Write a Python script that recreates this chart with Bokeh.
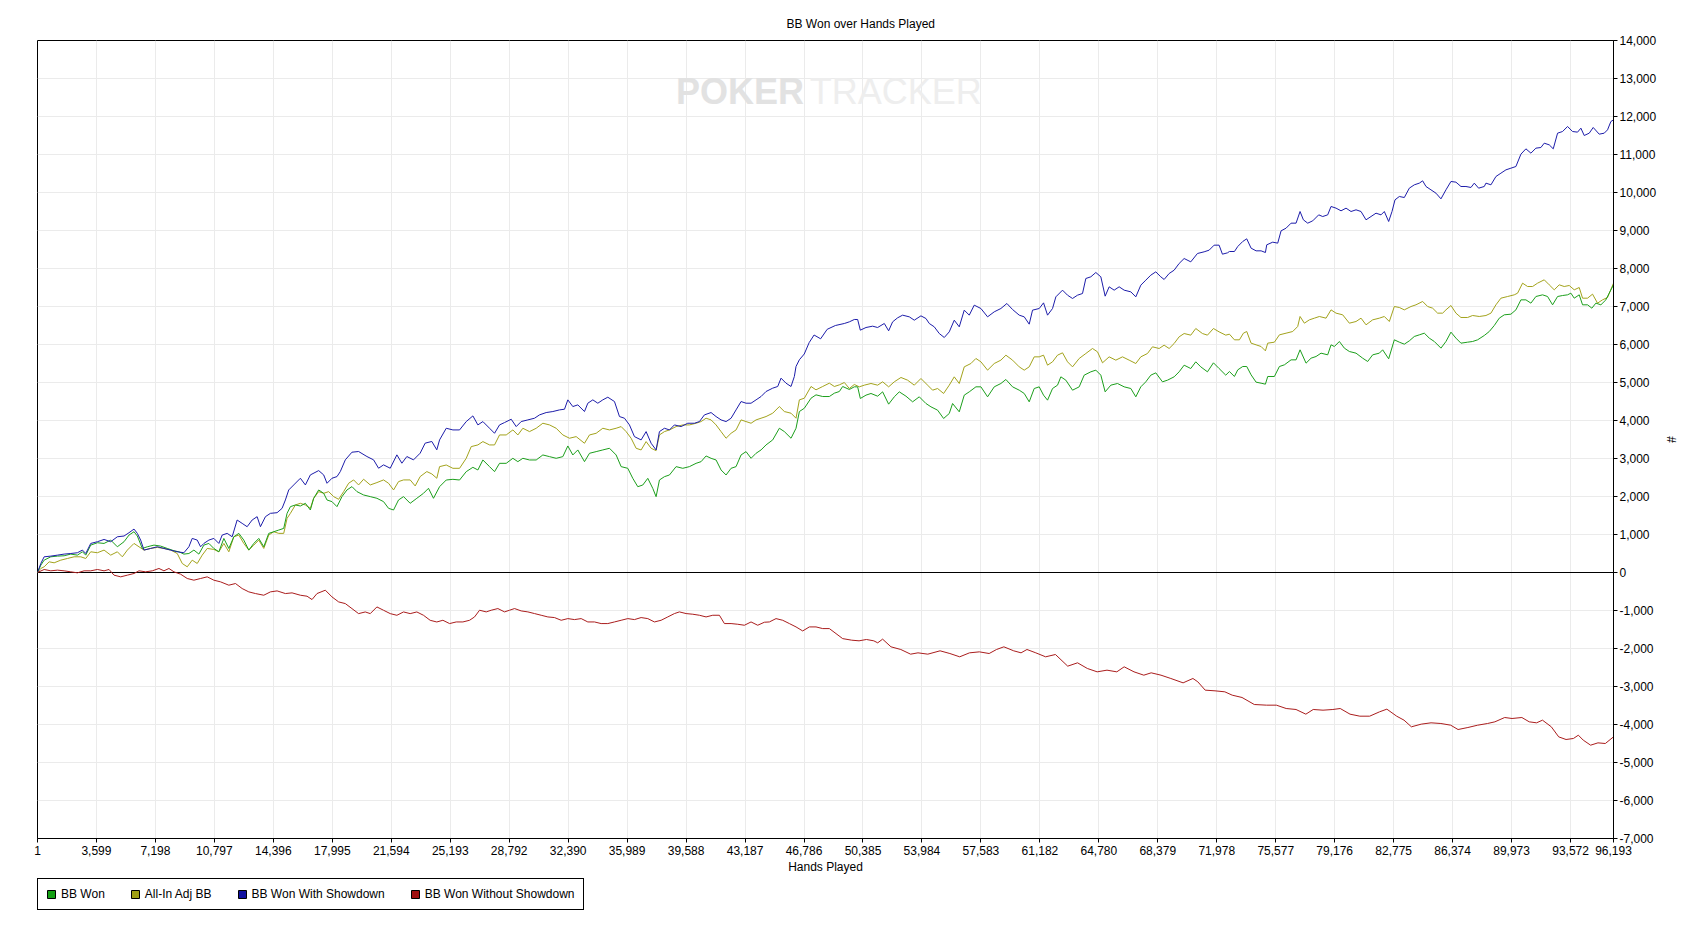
from bokeh.plotting import figure
from bokeh.layouts import column
from bokeh.models import Range1d, FixedTicker, NumeralTickFormatter, Span, Legend, LegendItem
from bokeh.embed import file_html
from bokeh.resources import INLINE
from bokeh.core.properties import value

TITLE = "BB Won over Hands Played"
X_LABEL = "Hands Played"
Y_LABEL = "#"
X_TICKS = [1, 3599, 7198, 10797, 14396, 17995, 21594, 25193, 28792, 32390, 35989,
           39588, 43187, 46786, 50385, 53984, 57583, 61182, 64780, 68379, 71978,
           75577, 79176, 82775, 86374, 89973, 93572, 96193]
Y_TICKS = list(range(-7000, 14001, 1000))
NAMES = ["BB Won", "All-In Adj BB", "BB Won With Showdown", "BB Won Without Showdown"]
COLORS = ["#1c9f1c", "#a3a31c", "#1d1daa", "#aa1d1d"]
LEGEND_COLORS = ["#14a014", "#a0a014", "#1010a0", "#a01010"]

# (hand, bb) pairs
bb_won = [
    (1, 0), (204, 193), (407, 325), (813, 413), (1220, 431), (1626, 440), (2032, 484), (2438, 457),
    (2743, 545), (2946, 457), (3251, 721), (3657, 783), (4063, 765), (4469, 853), (4875, 677),
    (5282, 810), (5586, 985), (5891, 1073), (6094, 960), (6399, 633), (6703, 677), (7110, 721),
    (7516, 695), (7922, 633), (8328, 572), (8633, 545), (8937, 484), (9242, 500), (9547, 590),
    (9851, 484), (10156, 721), (10461, 765), (10765, 633), (11070, 545), (11375, 897), (11679, 633),
    (11984, 940), (12289, 1030), (12593, 853), (12898, 590), (13203, 765), (13507, 897), (13812, 677),
    (14116, 1030), (14421, 1073), (14726, 1117), (15030, 1161), (15234, 1557), (15437, 1733),
    (15741, 1777), (16046, 1750), (16351, 1821), (16655, 1645), (16858, 1953), (17163, 2172),
    (17468, 2084), (17671, 1909), (17975, 1865), (18280, 1733), (18585, 1997), (18889, 2172),
    (19194, 2260), (19499, 2128), (19905, 2040), (20311, 1997), (20717, 1953), (21123, 1865),
    (21428, 1689), (21733, 1645), (22037, 1909), (22342, 1997), (22748, 1821), (23154, 1953),
    (23561, 2084), (23865, 2216), (24170, 1953),
    (24542, 2258), (24949, 2434), (25355, 2452), (25762, 2434), (26169, 2654), (26575, 2768),
    (26880, 2698), (27185, 2961), (27592, 2786), (27897, 2654), (28202, 2873), (28609, 2873),
    (29015, 3005), (29320, 2917), (29625, 3005), (30032, 2961), (30439, 2961), (30845, 3093),
    (31252, 3049), (31659, 3005), (32065, 3049), (32370, 3330), (32675, 3093), (32980, 3225),
    (33387, 2917), (33692, 3137), (34099, 3181), (34505, 3225), (34912, 3269), (35318, 3093),
    (35623, 2786), (36030, 2742), (36335, 2478), (36640, 2258), (36945, 2302), (37250, 2478),
    (37555, 2214), (37758, 1995), (37962, 2434), (38267, 2522), (38572, 2566), (38978, 2786),
    (39385, 2742), (39791, 2786), (40198, 2873), (40503, 2917), (40808, 3067), (41113, 3005),
    (41418, 2961), (41723, 2698), (42028, 2566), (42333, 2742), (42638, 2786), (42943, 3093),
    (43248, 3181), (43553, 3005), (43858, 3137), (44163, 3225), (44468, 3357), (44875, 3489),
    (45281, 3796), (45586, 3708), (45993, 3533), (46298, 3796), (46502, 4236), (46806, 4323),
    (47213, 4587), (47518, 4675), (47925, 4631), (48332, 4631), (48637, 4719), (48942, 4763),
    (49145, 4895),
    (49551, 4816), (49856, 4886), (50059, 4886), (50222, 4579), (50568, 4667), (50873, 4711),
    (51279, 4640), (51584, 4754), (51950, 4430), (52296, 4623), (52601, 4754), (53008, 4640),
    (53414, 4491), (53821, 4623), (54228, 4447), (54533, 4360), (54939, 4272), (55305, 4053),
    (55651, 4184), (55854, 4447), (56261, 4228), (56566, 4667), (56871, 4754), (57278, 4886),
    (57583, 4886), (57989, 4623), (58396, 4886), (58803, 4974), (59108, 5079), (59514, 4886),
    (59921, 4798), (60226, 4711), (60531, 4491), (60836, 4842), (61141, 4886), (61405, 4667),
    (61649, 4535), (61954, 4842), (62259, 4930), (62462, 5149), (62767, 5061), (63174, 4798),
    (63581, 4886), (63886, 5193), (64292, 5281), (64597, 5325), (64902, 5193), (65166, 4754),
    (65512, 4930), (65919, 4974), (66326, 4886), (66732, 4842), (67037, 4623), (67342, 4886),
    (67647, 5018), (67952, 5193), (68257, 5254), (68664, 5018), (68969, 5061), (69376, 5149),
    (69681, 5281), (69986, 5456), (70392, 5368), (70697, 5544), (71002, 5412), (71409, 5281),
    (71775, 5518), (72121, 5368), (72527, 5193),
    (72751, 5289), (73056, 5158), (73259, 5333), (73564, 5421), (73808, 5421), (74073, 5202),
    (74378, 5009), (74683, 4982), (74947, 4956), (75089, 5158), (75496, 5158), (75801, 5421),
    (76106, 5465), (76513, 5596), (76818, 5596), (77062, 5860), (77428, 5509), (77733, 5640),
    (78038, 5684), (78343, 5772), (78749, 5728), (78953, 5991), (79156, 5947), (79461, 6079),
    (79766, 5904), (80071, 5816), (80478, 5772), (80884, 5640), (81189, 5553), (81494, 5728),
    (81901, 5772), (82104, 5860), (82470, 5623), (82816, 6123), (83121, 6061), (83426, 6009),
    (83731, 6096), (84036, 6211), (84341, 6254), (84646, 6298), (84951, 6167), (85256, 6079),
    (85662, 5904), (85967, 6079), (86272, 6325), (86577, 6167), (86882, 6035), (87289, 6061),
    (87594, 6079), (87899, 6123), (88306, 6237), (88611, 6342), (88916, 6500), (89221, 6693),
    (89526, 6781), (89932, 6798), (90237, 6912), (90542, 7175), (90847, 7175), (91152, 7088),
    (91457, 7263), (91864, 7307), (92169, 7263), (92474, 7044), (92779, 7263), (93084, 7289),
    (93389, 7307), (93592, 7351), (93796, 7219), (94101, 7307), (94304, 7044), (94609, 7044),
    (94873, 6956), (95117, 7088), (95423, 7044), (95728, 7175), (95931, 7351), (96193, 7570),
]

all_in_adj = [
    (1, 0), (204, 106), (407, 150), (712, 281), (1017, 255), (1423, 325), (1829, 369), (2235, 413),
    (2641, 413), (2946, 369), (3251, 545), (3657, 520), (4063, 590), (4469, 457), (4875, 545),
    (5180, 413), (5485, 590), (5891, 765), (6196, 677), (6500, 590), (6906, 633), (7313, 660),
    (7719, 633), (8125, 590), (8531, 500), (8836, 237), (9141, 150), (9445, 325), (9750, 237),
    (10054, 457), (10359, 633), (10765, 607), (11070, 545), (11375, 765), (11679, 545), (11984, 940),
    (12289, 985), (12593, 765), (12898, 590), (13203, 721), (13507, 853), (13812, 633), (14116, 985),
    (14421, 1073), (14726, 1030), (15030, 1030), (15234, 1425), (15437, 1557), (15741, 1777),
    (16046, 1821), (16351, 1777), (16655, 1689), (16858, 1953), (17163, 2128), (17468, 2084),
    (17772, 2128), (18077, 1997), (18382, 1926), (18686, 2128), (18991, 2348), (19296, 2436),
    (19600, 2304), (19905, 2454), (20311, 2304), (20717, 2366), (21123, 2436), (21428, 2348),
    (21733, 2172), (22037, 2392), (22342, 2436), (22748, 2436), (23053, 2278), (23357, 2524),
    (23764, 2656), (24068, 2594), (24373, 2480),
    (24542, 2786), (24949, 2829), (25355, 2742), (25762, 2742), (26169, 3005), (26474, 3313),
    (26880, 3357), (27185, 3445), (27592, 3357), (27897, 3357), (28202, 3620), (28609, 3620),
    (29015, 3752), (29320, 3620), (29625, 3796), (30032, 3708), (30439, 3796), (30845, 3928),
    (31252, 3884), (31659, 3796), (32065, 3620), (32472, 3533), (32879, 3576), (33387, 3401),
    (33692, 3620), (34099, 3664), (34505, 3796), (34912, 3752), (35318, 3796), (35623, 3840),
    (35928, 3708), (36233, 3533), (36538, 3269), (36843, 3225), (37148, 3445), (37453, 3269),
    (37758, 3207), (37962, 3620), (38267, 3708), (38572, 3752), (38978, 3840), (39385, 3884),
    (39791, 3884), (40198, 3928), (40503, 3972), (40808, 4060), (41113, 4016), (41418, 3884),
    (41723, 3708), (42028, 3533), (42333, 3664), (42638, 3752), (42943, 4016), (43248, 3972),
    (43553, 3928), (43858, 4016), (44163, 4060), (44468, 4104), (44875, 4192), (45281, 4367),
    (45586, 4236), (45993, 4192), (46298, 4060), (46502, 4543), (46806, 4587), (47213, 4895),
    (47518, 4807), (47925, 4895), (48332, 4982), (48637, 4895), (48942, 4938), (49247, 5000),
    (49551, 4842), (49856, 4947), (50161, 4886), (50466, 4930), (50873, 4974), (51279, 4930),
    (51584, 5018), (51950, 4886), (52296, 5018), (52703, 5132), (53109, 5061), (53516, 4930),
    (53923, 5105), (54329, 4930), (54634, 4798), (54939, 4842), (55305, 4711), (55651, 4930),
    (55956, 5149), (56261, 4974), (56566, 5412), (56973, 5500), (57278, 5632), (57583, 5544),
    (57989, 5325), (58396, 5500), (58803, 5588), (59108, 5719), (59514, 5588), (59921, 5412),
    (60226, 5325), (60531, 5412), (60836, 5675), (61141, 5675), (61405, 5719), (61649, 5456),
    (61954, 5544), (62259, 5719), (62564, 5781), (62869, 5544), (63174, 5412), (63581, 5632),
    (63987, 5763), (64394, 5895), (64699, 5807), (65004, 5518), (65410, 5675), (65817, 5588),
    (66224, 5675), (66631, 5588), (67037, 5500), (67342, 5675), (67749, 5763), (68054, 5939),
    (68461, 5895), (68766, 5982), (69071, 5895), (69376, 6026), (69681, 6202), (69986, 6289),
    (70392, 6246), (70697, 6421), (71104, 6289), (71409, 6246), (71775, 6421), (72121, 6333),
    (72527, 6246),
    (72751, 6272), (73056, 6123), (73361, 6123), (73605, 6298), (73808, 6342), (74073, 6035),
    (74378, 5991), (74683, 5947), (74947, 5833), (75089, 6035), (75496, 6061), (75801, 6254),
    (76208, 6298), (76614, 6342), (76919, 6474), (77062, 6737), (77326, 6561), (77631, 6649),
    (77936, 6693), (78241, 6737), (78648, 6693), (78953, 6912), (79258, 6825), (79664, 6781),
    (80071, 6561), (80478, 6605), (80783, 6693), (81088, 6518), (81494, 6649), (81901, 6693),
    (82206, 6737), (82511, 6605), (82816, 7000), (83121, 6974), (83426, 6912), (83832, 7000),
    (84137, 7044), (84544, 7132), (84849, 7000), (85154, 6956), (85459, 6825), (85764, 6825),
    (85967, 6912), (86272, 7026), (86577, 6825), (86882, 6711), (87289, 6711), (87594, 6763),
    (88001, 6737), (88408, 6763), (88713, 6825), (89017, 7044), (89322, 7219), (89729, 7263),
    (90136, 7307), (90339, 7351), (90644, 7614), (90949, 7526), (91254, 7526), (91559, 7614),
    (91966, 7702), (92271, 7570), (92576, 7439), (92881, 7570), (93186, 7526), (93491, 7553),
    (93796, 7439), (94101, 7500), (94304, 7219), (94609, 7219), (94914, 7325), (95219, 7088),
    (95524, 7175), (95829, 7237), (96193, 7614),
]

with_showdown = [
    (1, 0), (204, 237), (407, 413), (813, 431), (1220, 457), (1626, 484), (2032, 500), (2438, 520),
    (2743, 590), (2946, 500), (3251, 765), (3657, 810), (4063, 870), (4469, 810), (4875, 940),
    (5282, 960), (5586, 1047), (5891, 1143), (6094, 1030), (6297, 853), (6500, 590), (6906, 633),
    (7313, 677), (7719, 633), (8125, 590), (8531, 545), (8937, 520), (9242, 677), (9445, 897),
    (9750, 853), (9953, 677), (10156, 765), (10461, 853), (10765, 897), (11070, 765), (11273, 985),
    (11578, 1030), (11882, 940), (12187, 1381), (12492, 1293), (12796, 1205), (13101, 1381),
    (13406, 1469), (13609, 1205), (13913, 1469), (14218, 1557), (14624, 1574), (14929, 1689),
    (15132, 1909), (15335, 2172), (15640, 2304), (16046, 2480), (16351, 2304), (16655, 2568),
    (17163, 2682), (17468, 2568), (17671, 2348), (17975, 2480), (18280, 2524), (18483, 2656),
    (18788, 2964), (19194, 3166), (19600, 3184), (20108, 3052), (20514, 2964), (20819, 2744),
    (21123, 2832), (21530, 2744), (21936, 3096), (22240, 2876), (22545, 3052), (22951, 2964),
    (23357, 3140), (23662, 3404), (24068, 3448), (24373, 3228),
    (24542, 3489), (24949, 3796), (25355, 3752), (25762, 3752), (26169, 3972), (26575, 4121),
    (26880, 3884), (27185, 3972), (27592, 3796), (27897, 3664), (28202, 3884), (28507, 3946),
    (28914, 4033), (29219, 3840), (29523, 3972), (29930, 4016), (30337, 4060), (30642, 4148),
    (31049, 4209), (31455, 4236), (31862, 4279), (32167, 4297), (32370, 4543), (32675, 4367),
    (32980, 4411), (33387, 4236), (33590, 4455), (33895, 4543), (34200, 4455), (34505, 4543),
    (34810, 4613), (35217, 4499), (35522, 4104), (35827, 4060), (36132, 3884), (36437, 3576),
    (36843, 3489), (37148, 3708), (37453, 3401), (37758, 3225), (37962, 3708), (38267, 3796),
    (38572, 3752), (38877, 3884), (39283, 3840), (39690, 3928), (40097, 3928), (40402, 3972),
    (40707, 4148), (41113, 4209), (41418, 4104), (41723, 4016), (42028, 3972), (42333, 4060),
    (42638, 4279), (42943, 4499), (43248, 4455), (43553, 4455), (43858, 4543), (44163, 4631),
    (44468, 4763), (44875, 4851), (45180, 4895), (45383, 5114), (45688, 4982), (45993, 4895),
    (46196, 5158), (46298, 5422), (46502, 5598), (46800, 5750), (47100, 6050), (47400, 6250),
    (47800, 6150), (48200, 6400), (48700, 6500),
    (49246, 6553), (49551, 6596), (49856, 6658), (50059, 6658), (50222, 6377), (50568, 6447),
    (50974, 6482), (51279, 6447), (51686, 6553), (51950, 6360), (52194, 6596), (52499, 6702),
    (52804, 6772), (53211, 6728), (53516, 6640), (53923, 6754), (54228, 6684), (54431, 6553),
    (54736, 6465), (55041, 6289), (55346, 6184), (55651, 6333), (55956, 6640), (56261, 6465),
    (56566, 6904), (56871, 6772), (57176, 7035), (57583, 6947), (57989, 6728), (58396, 6860),
    (58803, 6947), (59168, 7079), (59514, 6921), (59921, 6772), (60226, 6728), (60531, 6535),
    (60734, 6904), (61141, 6947), (61405, 7096), (61649, 6772), (61954, 6947), (62157, 7254),
    (62564, 7430), (62869, 7298), (63174, 7211), (63479, 7298), (63784, 7342), (63987, 7737),
    (64292, 7781), (64597, 7895), (64902, 7781), (65166, 7272), (65410, 7518), (65716, 7430),
    (66021, 7518), (66326, 7430), (66732, 7386), (67037, 7254), (67342, 7561), (67647, 7693),
    (67952, 7825), (68257, 7912), (68562, 7781), (68766, 7711), (69071, 7868), (69376, 7956),
    (69681, 8132), (69986, 8263), (70392, 8175), (70799, 8395), (71206, 8439), (71511, 8482),
    (71816, 8614), (72121, 8614), (72324, 8377), (72629, 8412),
    (72751, 8447), (73056, 8447), (73259, 8579), (73564, 8711), (73808, 8781), (74073, 8535),
    (74378, 8465), (74683, 8465), (74947, 8421), (75028, 8623), (75394, 8693), (75699, 8667),
    (75903, 8991), (76208, 9061), (76513, 9193), (76818, 9193), (77062, 9500), (77265, 9281),
    (77529, 9193), (77834, 9254), (78200, 9412), (78444, 9368), (78749, 9412), (78953, 9632),
    (79258, 9588), (79563, 9518), (79868, 9588), (80173, 9500), (80478, 9544), (80783, 9500),
    (81088, 9281), (81393, 9368), (81698, 9456), (82003, 9412), (82206, 9500), (82470, 9237),
    (82674, 9500), (82857, 9807), (83121, 9895), (83426, 9868), (83731, 10114), (84036, 10202),
    (84341, 10246), (84544, 10307), (84748, 10158), (85052, 10070), (85357, 9982), (85662, 9833),
    (85967, 10070), (86272, 10290), (86577, 10272), (86882, 10158), (87187, 10158), (87492, 10132),
    (87696, 10246), (87960, 10114), (88306, 10158), (88408, 10246), (88713, 10202), (89017, 10421),
    (89322, 10509), (89627, 10596), (89932, 10640), (90237, 10684), (90542, 11009), (90847, 11149),
    (91152, 11035), (91457, 11167), (91762, 11184), (91966, 11298), (92271, 11254), (92515, 11149),
    (92779, 11561), (93084, 11605), (93389, 11737), (93694, 11605), (93999, 11588), (94202, 11693),
    (94406, 11500), (94711, 11561), (94955, 11711), (95321, 11535), (95626, 11561), (95829, 11649),
    (96033, 11868), (96193, 11912),
]

without_showdown = [
    (1, 0), (407, 79), (813, 44), (1220, 62), (1626, 44), (2032, 18), (2438, -9), (2844, 44),
    (3251, 44), (3657, 79), (4063, 44), (4368, 79), (4672, -70), (5079, -114), (5485, -70),
    (5891, -26), (6196, 44), (6602, 18), (7008, 44), (7414, 106), (7719, 44), (8023, 106),
    (8328, 18), (8734, -44), (9141, -158), (9547, -202), (9953, -158), (10359, -114), (10765, -202),
    (11172, -246), (11679, -334), (12085, -290), (12492, -422), (12898, -510), (13304, -554),
    (13812, -598), (14218, -510), (14624, -484), (15132, -554), (15538, -536), (16046, -598),
    (16452, -624), (16757, -712), (17061, -554), (17569, -466), (17975, -642), (18382, -774),
    (18788, -818), (19194, -950), (19600, -1082), (20006, -1038), (20311, -1082), (20717, -906),
    (21123, -994), (21530, -1082), (21936, -1126), (22342, -1038), (22748, -1082), (23154, -1038),
    (23561, -1126), (23967, -1258), (24373, -1302),
    (24745, -1257), (25152, -1344), (25559, -1301), (25965, -1301), (26372, -1257), (26677, -1169),
    (26982, -993), (27389, -1037), (27694, -993), (28100, -949), (28507, -1037), (28812, -993),
    (29117, -949), (29523, -1011), (29930, -1037), (30337, -1081), (30744, -1125), (31150, -1169),
    (31557, -1186), (31964, -1257), (32370, -1213), (32777, -1239), (33184, -1213), (33590, -1301),
    (33997, -1301), (34403, -1344), (34810, -1344), (35217, -1301), (35623, -1257), (36030, -1213),
    (36437, -1239), (36843, -1186), (37250, -1213), (37657, -1301), (38063, -1257), (38470, -1169),
    (38877, -1081), (39182, -1037), (39588, -1081), (39995, -1098), (40402, -1125), (40808, -1169),
    (41215, -1125), (41621, -1125), (41927, -1344), (42333, -1344), (42740, -1362), (43147, -1388),
    (43553, -1301), (43960, -1388), (44367, -1309), (44672, -1301), (45078, -1213), (45485, -1257),
    (45892, -1344), (46298, -1432), (46705, -1538), (47112, -1432), (47518, -1432), (47925, -1476),
    (48332, -1476), (48739, -1608), (49145, -1740),
    (49696, -1781), (50145, -1798), (50595, -1763), (51044, -1798), (51284, -1851), (51583, -1754),
    (52093, -1956), (52692, -2026), (53291, -2149), (53741, -2114), (54340, -2149), (55090, -2061),
    (55689, -2132), (56288, -2219), (56888, -2114), (57487, -2088), (58086, -2132), (58536, -2026),
    (58985, -1956), (59585, -2061), (60034, -2114), (60394, -2026), (60933, -2114), (61532, -2219),
    (62132, -2158), (62881, -2465), (63480, -2377), (64080, -2526), (64679, -2614), (65278, -2570),
    (65878, -2614), (66327, -2482), (66927, -2614), (67526, -2702), (67975, -2640), (68575, -2702),
    (69174, -2789), (69923, -2904), (70523, -2789), (70822, -2877), (71272, -3096), (71871, -3114),
    (72470, -3140), (72920, -3228), (73519, -3289), (74268, -3474), (75018, -3491), (75617, -3491),
    (76216, -3579), (76816, -3605), (77415, -3728), (77865, -3605), (78464, -3623), (79063, -3605),
    (79513, -3579), (80112, -3728), (80711, -3781), (81311, -3781), (81910, -3667), (82360, -3596),
    (82959, -3781), (83408, -3886), (83858, -4061), (84457, -3991), (85057, -3956), (85656, -3974),
    (86255, -4018), (86705, -4132), (87304, -4079), (87903, -4018), (88503, -3974), (88952, -3930),
    (89552, -3816), (90001, -3842), (90600, -3816), (91050, -3930), (91499, -3956), (91859, -3886),
    (92398, -4061), (92848, -4325), (93297, -4395), (93747, -4368), (94047, -4281), (94346, -4412),
    (94796, -4544), (95245, -4483), (95695, -4500), (96193, -4325),
]

FONT = "Liberation Sans"

p = figure(width=1691, height=877, output_backend="svg", toolbar_location=None,
           x_range=Range1d(1, 96193), y_range=Range1d(-7000, 14000),
           y_axis_location="right", title=TITLE,
           min_border_left=37, min_border_right=78, min_border_top=40, min_border_bottom=39)
p.background_fill_color = "white"
p.border_fill_color = "white"
p.outline_line_color = "black"
p.outline_line_alpha = 1.0
p.outline_line_width = 1

p.title.text_font = FONT
p.title.text_font_size = "12px"
p.title.text_font_style = "normal"
p.title.text_color = "black"
p.title.align = "left"
p.title.offset = 749
p.title.standoff = 20

p.xaxis.ticker = FixedTicker(ticks=X_TICKS)
p.yaxis.ticker = FixedTicker(ticks=Y_TICKS)
p.xaxis.formatter = NumeralTickFormatter(format="0,0")
p.yaxis.formatter = NumeralTickFormatter(format="0,0")
p.xaxis.axis_label = X_LABEL
p.yaxis.axis_label = Y_LABEL
for ax in (p.xaxis, p.yaxis):
    ax.axis_line_color = "black"
    ax.major_tick_line_color = "black"
    ax.major_tick_in = 0
    ax.major_tick_out = 4
    ax.minor_tick_line_color = None
    ax.major_label_text_font = FONT
    ax.major_label_text_font_size = "12px"
    ax.major_label_text_color = "black"
    ax.axis_label_text_font = FONT
    ax.axis_label_text_font_size = "12px"
    ax.axis_label_text_font_style = "normal"
    ax.axis_label_text_color = "black"
p.xaxis.major_label_standoff = 3
p.xaxis.axis_label_standoff = 2
p.yaxis.major_label_standoff = 2
p.yaxis.axis_label_standoff = 5

p.grid.grid_line_color = "#ebebeb"
p.grid.grid_line_width = 1

p.add_layout(Span(location=0, dimension="width", line_color="black", line_width=1, level="underlay"))

# watermark
p.text(x=[38975], y=[12660], text=["POKER"], text_font=value(FONT), text_font_size="36px",
       text_font_style="bold", text_color="#e2e2e2", text_baseline="alphabetic", text_align="left")
p.text(x=[47142], y=[12660], text=["TRACKER"], text_font=value(FONT), text_font_size="36px",
       text_font_style="normal", text_color="#eeeeee", text_baseline="alphabetic", text_align="left")

series = [bb_won, all_in_adj, with_showdown, without_showdown]
draw_order = [1, 0, 2, 3]
for i in draw_order:
    xs = [h for h, _ in series[i]]
    ys = [v for _, v in series[i]]
    p.line(xs, ys, line_color=COLORS[i], line_width=1)

# legend strip below the chart (its frame is aligned with the chart's frame)
lf = figure(width=1691, height=36, output_backend="svg", toolbar_location=None,
            x_axis_type=None, y_axis_type=None, x_range=Range1d(0, 1), y_range=Range1d(0, 1),
            min_border=0)
lf.outline_line_color = None
lf.background_fill_color = "white"
lf.border_fill_color = "white"

nan = float("nan")
items = []
for name, col in zip(NAMES, LEGEND_COLORS):
    r = lf.quad(left=[nan], right=[nan], top=[nan], bottom=[nan],
                fill_color=col, line_color="black", line_width=1)
    items.append(LegendItem(label=name, renderers=[r], index=0))

legend = Legend(items=items, orientation="horizontal", location=(0, 3),
                glyph_width=10, glyph_height=10, label_standoff=5, spacing=25, padding=8,
                margin=0, label_height=14, border_line_color="black", border_line_width=1,
                border_line_alpha=1.0, background_fill_color="white", background_fill_alpha=1.0,
                label_text_font=FONT, label_text_font_size="12px", label_text_color="black")
lf.add_layout(legend, "center")

layout = column(p, lf, spacing=0)
open("out.html", "w").write(file_html(layout, INLINE))
